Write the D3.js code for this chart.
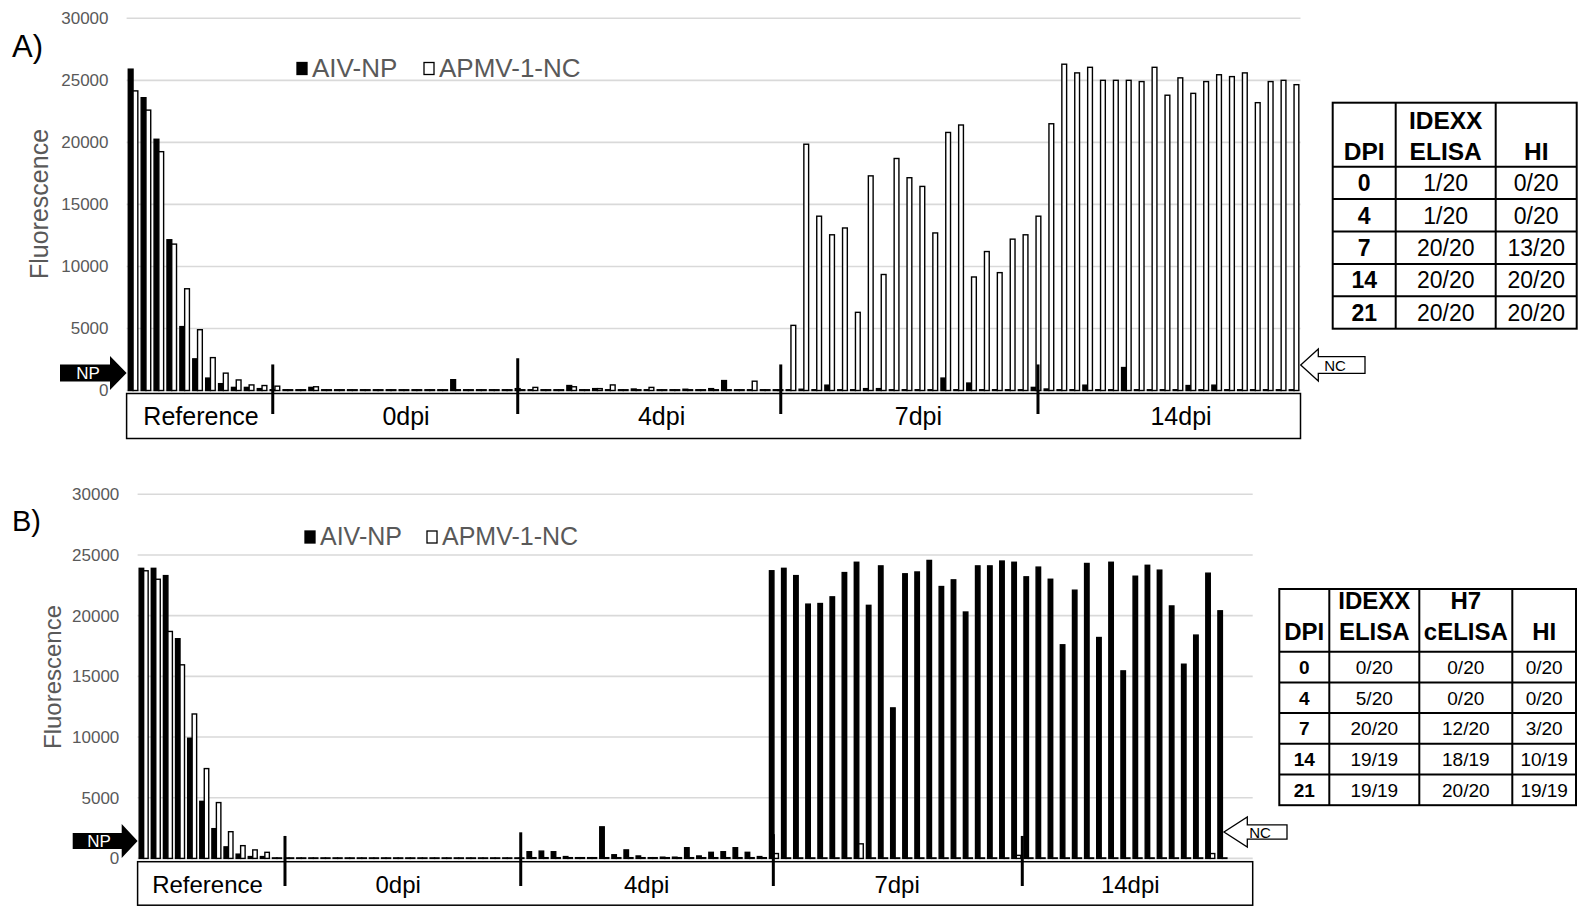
<!DOCTYPE html>
<html>
<head>
<meta charset="utf-8">
<script src="https://cdn.jsdelivr.net/npm/d3@7"></script>
<style>
  body { margin: 0; background: #fff; }
  svg { display: block; font-family: "Liberation Sans", Arial, sans-serif; }
</style>
</head>
<body>
<svg id="chart" width="1579" height="906"></svg>
<script>
// ---- data ----
var yTicks = [0, 5000, 10000, 15000, 20000, 25000, 30000];
var seriesNames = ["AIV-NP", "APMV-1-NC"];
var groupLabels = ["Reference", "0dpi", "4dpi", "7dpi", "14dpi"];

// panel A: 91 samples, AIV-NP (black) and APMV-1-NC (white)
var npA = [25900, 23600, 20250, 12150, 5150, 2550, 1000, 550, 250, 250, 150,
  60, 60, 60, 250, 60, 60, 60, 60, 60, 60,
  60, 60, 60, 60, 870, 60, 60, 60, 60, 150,
  60, 60, 60, 400, 60, 150, 60, 60, 120, 60,
  60, 60, 100, 60, 150, 800, 60, 60, 60, 60,
  60, 100, 60, 430, 60, 60, 150, 150, 60, 60,
  60, 60, 1000, 60, 600, 60, 60, 60, 60, 250,
  120, 60, 60, 430, 60, 60, 1850, 60, 60, 60,
  60, 400, 60, 430, 60, 60, 60, 60, 60, 60];
var ncA = [24150, 22600, 19250, 11800, 8200, 4900, 2650, 1400, 850, 450, 400,
  350, 60, 60, 300, 60, 60, 60, 60, 60, 60,
  60, 60, 60, 60, 60, 60, 60, 60, 60, 60,
  250, 60, 60, 300, 60, 150, 450, 60, 60, 250,
  60, 60, 60, 60, 60, 60, 60, 750, 60, 60,
  5250, 19850, 14050, 12550, 13100, 6300, 17300, 9350, 18700, 17150,
  16450, 12700, 20800, 21400, 9150, 11200, 9500, 12200, 12550, 14050,
  21500, 26300, 25600, 26050, 25000, 25000, 25000, 24900, 26050, 23800,
  25200, 23950, 24900, 25450, 25300, 25600, 23200, 24900, 25000, 24650];

// panel B: 92 slots (last two empty)
var npB = [23900, 23900, 23300, 18100, 9900, 4700, 2450, 950, 350, 150, 150,
  40, 40, 40, 40, 40, 40, 40, 40, 40, 40,
  40, 40, 40, 40, 40, 40, 40, 40, 40, 40, 40,
  550, 600, 550, 150, 60, 60, 2600, 300, 700, 200,
  60, 100, 100, 880, 200, 500, 550, 880, 500, 150,
  23700, 23900, 23300, 20950, 21000, 21550, 23550, 24400, 20850, 24100,
  12400, 23450, 23600, 24550, 22400, 22950, 20300, 24100, 24100, 24500,
  24400, 23200, 24000, 23000, 17600, 22100, 24300, 18200, 24400, 15450,
  23250, 24150, 23750, 20800, 16000, 18400, 23500, 20400,
  null, null];
var ncB = [23700, 23000, 18700, 15950, 11900, 7400, 4600, 2200, 1050, 700, 500,
  40, 40, 40, 40, 40, 40, 40, 40, 40, 40,
  40, 40, 40, 40, 40, 40, 40, 40, 40, 40, 40,
  60, 60, 60, 60, 60, 60, 60, 60, 60, 60,
  60, 60, 60, 60, 60, 60, 60, 60, 60, 60,
  400, 40, 40, 40, 40, 40, 40, 1200, 40, 40,
  40, 40, 40, 40, 40, 40, 40, 40, 40, 40,
  250, 40, 40, 40, 40, 40, 40, 40, 40, 40,
  40, 40, 40, 40, 40, 40, 400, 40,
  null, null];

// group dividers and label centres, in sample units
var sepA = [11.33, 30.32, 50.71, 70.65];
var sepTopA = [2100, 2600, 2100, 2100];
var labelPosA = [5.77, 21.66, 41.47, 61.38, 81.74];
var sepB = [12.16, 31.61, 52.45, 72.99];
var sepTopB = [1850, 2150, 2000, 1850];
var labelPosB = [5.77, 21.5, 42.0, 62.66, 81.9];

// serology tables
var tableHeadA = [["DPI"], ["IDEXX", "ELISA"], ["HI"]];
var tableRowsA = [["0", "1/20", "0/20"], ["4", "1/20", "0/20"], ["7", "20/20", "13/20"],
  ["14", "20/20", "20/20"], ["21", "20/20", "20/20"]];
var tableHeadB = [["DPI"], ["IDEXX", "ELISA"], ["H7", "cELISA"], ["HI"]];
var tableRowsB = [["0", "0/20", "0/20", "0/20"], ["4", "5/20", "0/20", "0/20"],
  ["7", "20/20", "12/20", "3/20"], ["14", "19/19", "18/19", "10/19"],
  ["21", "19/19", "20/20", "19/19"]];

var svg = d3.select("#chart");
var grey = "#595959";

function drawPanel(p) {
  var g = svg.append("g");
  var idx = d3.range(p.np.length);

  var x = d3.scaleBand().domain(idx).range([p.left, p.right])
    .paddingInner(0.26).paddingOuter(0.13);
  var x1 = d3.scaleBand().domain([0, 1]).range([0, x.bandwidth()]);
  var y = d3.scaleLinear().domain([0, 30000]).range([p.bottom, p.top]);
  var step = x.step();
  var ux = function (u) { return p.left + u * step; };

  // gridlines
  g.selectAll(".grid").data(yTicks).enter().append("line")
    .attr("x1", p.left).attr("x2", p.right)
    .attr("y1", function (d) { return y(d); })
    .attr("y2", function (d) { return y(d); })
    .attr("stroke", "#d9d9d9").attr("stroke-width", 1.6);

  // y axis labels
  var yAxis = g.append("g")
    .attr("transform", "translate(" + p.tickX + ",0)")
    .call(d3.axisLeft(y).tickValues(yTicks).tickSize(0).tickPadding(0).tickFormat(d3.format("d")));
  yAxis.select(".domain").remove();
  yAxis.selectAll("text")
    .attr("fill", grey).style("font-size", "17px")
    .style("font-family", "Liberation Sans, Arial, sans-serif");

  g.append("text")
    .attr("transform", "translate(" + p.titleX + "," + p.titleY + ") rotate(-90)")
    .attr("text-anchor", "middle").attr("dy", "0.35em")
    .attr("fill", grey).style("font-size", p.titleSize + "px")
    .text("Fluorescence");

  // bars
  var series = [p.np, p.nc];
  series.forEach(function (vals, s) {
    g.selectAll(".bar" + s)
      .data(idx.filter(function (i) { return vals[i] != null; }))
      .enter().append("rect")
      .attr("x", function (i) { return x(i) + x1(s); })
      .attr("width", x1.bandwidth())
      .attr("y", function (i) { return y(vals[i]); })
      .attr("height", function (i) { return y(0) - y(vals[i]); })
      .attr("fill", s == 0 ? "#000" : "#fff")
      .attr("stroke", "#000").attr("stroke-width", 1.4);
  });

  // category box under the axis
  g.append("rect")
    .attr("x", p.left).attr("y", p.boxTop)
    .attr("width", p.right - p.left).attr("height", p.boxH)
    .attr("fill", "none").attr("stroke", "#000").attr("stroke-width", 1.5);

  g.selectAll(".glab").data(groupLabels).enter().append("text")
    .attr("x", function (d, i) { return ux(p.labelPos[i]); })
    .attr("y", p.labelY)
    .attr("text-anchor", "middle")
    .style("font-size", p.labelSize + "px")
    .text(function (d) { return d; });

  // group dividers
  g.selectAll(".sep").data(p.sep).enter().append("line")
    .attr("x1", function (d) { return ux(d); })
    .attr("x2", function (d) { return ux(d); })
    .attr("y1", function (d, i) { return y(p.sepTop[i]); })
    .attr("y2", p.sepBottom)
    .attr("stroke", "#000").attr("stroke-width", 3);

  // legend
  var leg = g.append("g");
  seriesNames.forEach(function (name, s) {
    var lx = p.legendX[s];
    leg.append("rect")
      .attr("x", lx).attr("y", p.legendY - 14)
      .attr("width", 10).attr("height", 12)
      .attr("fill", s == 0 ? "#000" : "#fff")
      .attr("stroke", "#000").attr("stroke-width", 1.3);
    leg.append("text")
      .attr("x", lx + 15).attr("y", p.legendY)
      .attr("fill", grey).style("font-size", p.legendSize + "px")
      .text(name);
  });

  // panel letter
  g.append("text")
    .attr("x", p.letterX).attr("y", p.letterY)
    .style("font-size", p.letterSize + "px")
    .text(p.letter);

  // NP arrow (black, pointing right at the axis)
  var a = p.np_arrow;
  g.append("path")
    .attr("d", "M" + a.x0 + "," + (a.cy - a.bh) + "H" + a.xh + "V" + (a.cy - a.hh) +
      "L" + p.left + "," + a.cy + "L" + a.xh + "," + (a.cy + a.hh) +
      "V" + (a.cy + a.bh) + "H" + a.x0 + "Z")
    .attr("fill", "#000");
  g.append("text")
    .attr("x", a.tx).attr("y", a.cy + 6)
    .attr("text-anchor", "middle").attr("fill", "#fff")
    .style("font-size", "17px").text("NP");

  // NC arrow (white, pointing left)
  var c = p.nc_arrow;
  g.append("path")
    .attr("d", "M" + c.x1 + "," + (c.cy - c.bh) + "H" + c.xh + "V" + (c.cy - c.hh) +
      "L" + c.tip + "," + c.cy + "L" + c.xh + "," + (c.cy + c.hh) +
      "V" + (c.cy + c.bh) + "H" + c.x1 + "Z")
    .attr("fill", "#fff").attr("stroke", "#000").attr("stroke-width", 1.3);
  g.append("text")
    .attr("x", c.tx).attr("y", c.cy + 5.5)
    .attr("text-anchor", "middle")
    .style("font-size", "15px").text("NC");
}

function drawTable(t) {
  var g = svg.append("g");
  var cols = t.cols, rowTops = [t.headTop, t.headBottom];
  for (var r = 1; r <= t.rows.length; r++) rowTops.push(t.headBottom + r * t.rowH);
  var bottom = rowTops[rowTops.length - 1];

  g.append("rect")
    .attr("x", cols[0]).attr("y", t.headTop)
    .attr("width", cols[cols.length - 1] - cols[0]).attr("height", bottom - t.headTop)
    .attr("fill", "#fff").attr("stroke", "#000").attr("stroke-width", 2);
  cols.slice(1, -1).forEach(function (cx) {
    g.append("line").attr("x1", cx).attr("x2", cx)
      .attr("y1", t.headTop).attr("y2", bottom)
      .attr("stroke", "#000").attr("stroke-width", 2);
  });
  rowTops.slice(1, -1).forEach(function (ry) {
    g.append("line").attr("x1", cols[0]).attr("x2", cols[cols.length - 1])
      .attr("y1", ry).attr("y2", ry)
      .attr("stroke", "#000").attr("stroke-width", 2);
  });

  var mid = function (i) { return (cols[i] + cols[i + 1]) / 2; };
  t.head.forEach(function (lines, i) {
    lines.forEach(function (txt, k) {
      g.append("text")
        .attr("x", mid(i))
        .attr("y", t.headBase - (lines.length - 1 - k) * t.headLine)
        .attr("text-anchor", "middle").attr("font-weight", "bold")
        .style("font-size", t.headSize + "px").text(txt);
    });
  });
  t.rows.forEach(function (row, r) {
    row.forEach(function (txt, i) {
      g.append("text")
        .attr("x", mid(i))
        .attr("y", rowTops[r + 1] + t.rowH / 2 + t.bodySize * 0.36)
        .attr("text-anchor", "middle")
        .attr("font-weight", i == 0 ? "bold" : "normal")
        .style("font-size", t.bodySize + "px").text(txt);
    });
  });
}

drawPanel({
  np: npA, nc: ncA, left: 126.6, right: 1300.5, top: 18.3, bottom: 390.5,
  tickX: 108.5, titleX: 39, titleY: 204, titleSize: 25,
  boxTop: 393.5, boxH: 45, labelY: 425, labelSize: 25, labelPos: labelPosA,
  sep: sepA, sepTop: sepTopA, sepBottom: 414,
  legendX: [297, 424], legendY: 76.5, legendSize: 26,
  letter: "A)", letterX: 12, letterY: 57, letterSize: 31,
  np_arrow: { x0: 60, xh: 110, cy: 373, bh: 8.5, hh: 17, tx: 88 },
  nc_arrow: { tip: 1300.7, xh: 1318.3, x1: 1365, cy: 365, bh: 8.3, hh: 16, tx: 1335 }
});

drawPanel({
  np: npB, nc: ncB, left: 137.6, right: 1252.7, top: 494.3, bottom: 858.4,
  tickX: 119.3, titleX: 53, titleY: 677, titleSize: 24,
  boxTop: 861.7, boxH: 43.5, labelY: 893, labelSize: 24, labelPos: labelPosB,
  sep: sepB, sepTop: sepTopB, sepBottom: 886,
  legendX: [305, 427], legendY: 545, legendSize: 25,
  letter: "B)", letterX: 12, letterY: 531, letterSize: 29,
  np_arrow: { x0: 72.7, xh: 121.7, cy: 841, bh: 8, hh: 17, tx: 99 },
  nc_arrow: { tip: 1224, xh: 1247.3, x1: 1287, cy: 832, bh: 7.2, hh: 15, tx: 1260 }
});

drawTable({
  cols: [1332.7, 1395.7, 1495.7, 1576.7], headTop: 102.7, headBottom: 166.7, rowH: 32.4,
  head: tableHeadA, rows: tableRowsA, headBase: 160, headLine: 30.7, headSize: 24.5, bodySize: 23
});
drawTable({
  cols: [1279.3, 1329.3, 1419.3, 1512.3, 1576], headTop: 589, headBottom: 651.7, rowH: 30.7,
  head: tableHeadB, rows: tableRowsB, headBase: 640, headLine: 30.7, headSize: 24, bodySize: 19
});
</script>
</body>
</html>
